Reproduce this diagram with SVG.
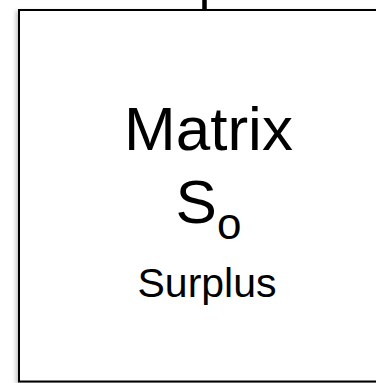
<svg xmlns="http://www.w3.org/2000/svg" width="376" height="383" viewBox="0 0 376 383">
<defs>
<filter id="sh" x="-10%" y="-10%" width="120%" height="120%">
<feGaussianBlur in="SourceAlpha" stdDeviation="2"/>
<feOffset dx="-2" dy="2"/>
<feComponentTransfer><feFuncA type="linear" slope="0.25"/></feComponentTransfer>
<feMerge><feMergeNode/><feMergeNode in="SourceGraphic"/></feMerge>
</filter>
<style>
.lbl{font-family:"Liberation Sans",Arial,sans-serif;fill:#000;text-anchor:middle}
</style>
</defs>
<rect width="376" height="383" fill="#fff"/>
<g id="connectors">
<line x1="204.5" y1="0" x2="204.5" y2="11" stroke="#000" stroke-width="4.5"/>
</g>
<g id="matrix">
<rect x="19" y="10" width="370" height="371.5" fill="#fff" stroke="#000" stroke-width="2" filter="url(#sh)"/>
<text class="lbl" x="208.5" y="150" font-size="62">Matrix</text>
<text class="lbl" x="208.5" y="223" font-size="62">S<tspan font-size="44" dy="16">o</tspan></text>
<text class="lbl" x="207" y="297" font-size="41">Surplus</text>
</g>
</svg>
